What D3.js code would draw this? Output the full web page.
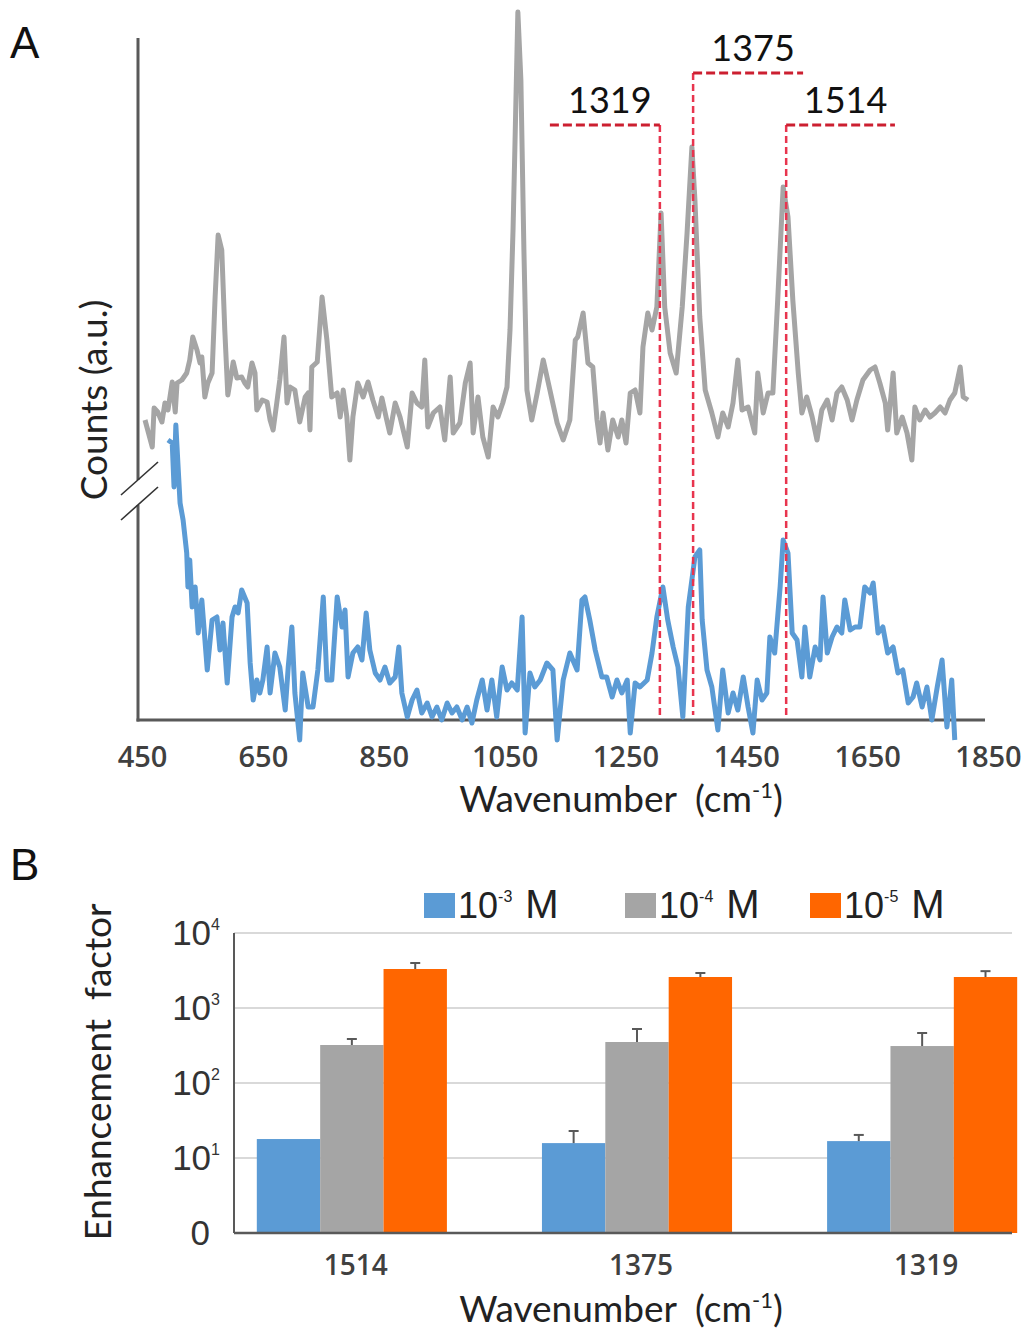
<!DOCTYPE html>
<html>
<head>
<meta charset="utf-8">
<script src="https://cdn.jsdelivr.net/npm/d3@7"></script>
<style>
  body { margin: 0; background: #fff; }
  svg { display: block; }
</style>
</head>
<body>
<div id="chart"></div>
<script>
// ---- Panel A: spectra (wavenumber in cm-1, counts in a.u.) ----
const grayWn = [455, 467, 470, 476, 483, 488, 493, 500, 505, 508, 516, 524, 529, 534, 541, 546, 549, 554, 559, 566,
  571, 576, 582, 587, 592, 601, 607, 615, 620, 625, 632, 637, 640, 649, 657, 662, 667, 673, 678, 685,
  690, 695, 703, 711, 720, 725, 728, 731, 740, 748, 756, 764, 773, 778, 783, 789, 794, 799, 807, 816,
  824, 832, 841, 847, 855, 860, 869, 877, 889, 897, 905, 913, 918, 923, 932, 943, 951, 960, 965, 976,
  985, 993, 998, 1006, 1014, 1023, 1031, 1039, 1047, 1054, 1059, 1064, 1067, 1072, 1077, 1082, 1087, 1095, 1104, 1114,
  1125, 1137, 1147, 1158, 1167, 1171, 1180, 1188, 1196, 1203, 1208, 1213, 1221, 1229, 1238, 1244, 1251, 1258, 1266, 1274,
  1279, 1287, 1294, 1302, 1309, 1315, 1324, 1334, 1344, 1352, 1360, 1365, 1373, 1382, 1393, 1403, 1411, 1420, 1428, 1436,
  1443, 1453, 1464, 1469, 1478, 1486, 1494, 1502, 1511, 1519, 1527, 1536, 1542, 1550, 1559, 1567, 1575, 1584, 1592, 1600,
  1608, 1617, 1625, 1633, 1643, 1655, 1663, 1671, 1680, 1684, 1693, 1699, 1708, 1716, 1724, 1729, 1737, 1746, 1754, 1762,
  1771, 1779, 1787, 1795, 1804, 1809, 1817];
const grayCounts = [300, 273, 312, 308, 298, 317, 310, 338, 308, 337, 340, 347, 360, 383, 370, 357, 363, 323, 337, 347,
  423, 485, 470, 390, 325, 358, 342, 343, 337, 333, 357, 347, 310, 320, 318, 300, 290, 317, 340, 383,
  317, 333, 330, 298, 323, 327, 290, 353, 358, 423, 380, 323, 327, 303, 330, 303, 260, 303, 337, 323,
  338, 320, 303, 322, 300, 287, 317, 303, 273, 327, 317, 313, 360, 293, 307, 313, 280, 343, 287, 297,
  337, 357, 287, 323, 283, 263, 313, 303, 317, 333, 390, 490, 570, 708, 640, 470, 330, 300, 327, 360,
  330, 297, 280, 300, 380, 383, 407, 357, 353, 300, 277, 307, 270, 300, 283, 300, 277, 327, 330, 307,
  373, 407, 390, 413, 507, 413, 367, 347, 413, 487, 573, 520, 403, 330, 307, 283, 307, 293, 317, 360,
  310, 313, 287, 347, 307, 327, 327, 420, 533, 503, 420, 347, 307, 323, 303, 280, 310, 320, 300, 327,
  333, 320, 300, 320, 340, 350, 353, 337, 317, 290, 347, 287, 303, 287, 260, 313, 300, 310, 303, 307,
  313, 307, 320, 327, 353, 323, 320];

const blueWn = [493, 500, 503, 506, 510, 513, 518, 524, 526, 529, 533, 538, 543, 549, 558, 566, 574, 579, 584, 591,
  599, 604, 609, 615, 624, 629, 634, 640, 645, 650, 657, 662, 670, 678, 687, 692, 698, 703, 711, 716,
  725, 733, 741, 750, 756, 764, 773, 781, 786, 791, 799, 807, 814, 821, 827, 836, 844, 852, 860, 869,
  875, 880, 889, 897, 905, 913, 922, 930, 938, 946, 955, 963, 971, 980, 988, 996, 1004, 1013, 1021, 1029,
  1037, 1046, 1054, 1062, 1071, 1079, 1084, 1092, 1100, 1109, 1120, 1130, 1137, 1147, 1158, 1170, 1178, 1183, 1191, 1200,
  1211, 1219, 1228, 1236, 1244, 1253, 1258, 1266, 1274, 1286, 1294, 1302, 1312, 1320, 1329, 1337, 1345, 1354, 1365, 1373,
  1377, 1385, 1393, 1403, 1411, 1420, 1428, 1436, 1445, 1453, 1461, 1468, 1476, 1484, 1489, 1497, 1506, 1511, 1519, 1526,
  1534, 1542, 1547, 1555, 1564, 1572, 1577, 1584, 1592, 1600, 1608, 1613, 1622, 1630, 1638, 1646, 1655, 1660, 1668, 1676,
  1684, 1693, 1701, 1709, 1718, 1726, 1732, 1741, 1749, 1757, 1766, 1774, 1782, 1790, 1795];
const blueCounts = [280, 277, 233, 295, 250, 217, 200, 167, 133, 160, 113, 133, 87, 120, 50, 100, 103, 70, 97, 37,
  103, 113, 107, 130, 117, 57, 20, 40, 27, 40, 73, 27, 67, 53, 10, 53, 93, 27, -20, 47,
  13, 13, 50, 123, 40, 40, 123, 93, 110, 43, 67, 73, 60, 107, 70, 47, 40, 53, 37, 43,
  73, 27, 3, 20, 30, 7, 17, 3, 13, 0, 17, 7, 13, 0, 13, -3, 20, 40, 10, 40,
  3, 53, 30, 37, 30, 103, -13, 47, 33, 40, 57, 50, -20, 40, 67, 50, 120, 123, 100, 70,
  43, 43, 23, 40, 27, 40, -13, 37, 33, 40, 67, 103, 133, 100, 73, 53, 3, 113, 163, 170,
  100, 50, 33, -10, 50, 7, 27, 10, 43, 13, -13, 40, 20, 27, 83, 67, 133, 180, 167, 87,
  80, 43, 93, 43, 73, 60, 123, 67, 83, 93, 87, 120, 90, 93, 93, 133, 127, 137, 87, 93,
  67, 73, 47, 50, 17, 23, 37, 13, 33, 0, 33, 60, -7, 40, -20];

const xTicks = [450, 650, 850, 1050, 1250, 1450, 1650, 1850];

// peak markers: label, position of the dashed drop line, far end of the bracket, bracket level
const peakLabels = ["1319", "1375", "1514"];
const peakLineWn = [1307, 1362, 1516];
const peakBracketEnd = [1125, 1544, 1696];
const peakBracketLevel = [595, 647, 595];

// ---- Panel B: enhancement factor ----
const bandLabels = ["1514", "1375", "1319"];
const seriesNames = ["-3", "-4", "-5"];
const ef1e3 = [17.9, 15.8, 16.8];
const ef1e4 = [321, 352, 311];
const ef1e5 = [3311, 2590, 2590];
const efErrHi1e3 = [17.9, 22.9, 20.3];
const efErrHi1e4 = [386, 525, 464];
const efErrHi1e5 = [3980, 2930, 3100];
const logTicks = [1, 10, 100, 1000, 10000];

const colors = ["#5b9bd5", "#a5a5a5", "#ff6600"];
const axisColor = "#595959";

const svg = d3.select("#chart").append("svg")
    .attr("width", 1026)
    .attr("height", 1329);

// axis title with a superscript "-1"
function waveTitle(cx, baseline) {
    const t = svg.append("text")
        .attr("x", cx).attr("y", baseline)
        .attr("text-anchor", "middle")
        .attr("font-family", "Lato, sans-serif")
        .attr("font-size", 37)
        .attr("fill", "#222");
    t.append("tspan").text("Wavenumber\u00a0\u00a0(cm");
    t.append("tspan").attr("dy", -14).attr("font-size", 22).text("-1");
    t.append("tspan").attr("dy", 14).text(")");
}

// ================= Panel A =================
const x = d3.scaleLinear().domain([450, 1850]).range([142, 988]);
const y = d3.scaleLinear().domain([0, 710]).range([720, 10]);

svg.append("text")
    .attr("x", 10).attr("y", 58)
    .attr("font-family", "Liberation Sans, Arial, sans-serif")
    .attr("font-size", 44)
    .attr("fill", "#111")
    .text("A");

// y axis with a break
const yAxisX = 138;
svg.append("line")
    .attr("x1", yAxisX).attr("x2", yAxisX)
    .attr("y1", 38).attr("y2", y(240))
    .attr("stroke", axisColor).attr("stroke-width", 3);
svg.append("line")
    .attr("x1", yAxisX).attr("x2", yAxisX)
    .attr("y1", y(215)).attr("y2", y(0) + 1.5)
    .attr("stroke", axisColor).attr("stroke-width", 3);
[0, 25].forEach(off => {
    svg.append("line")
        .attr("x1", 121).attr("y1", 495 + off)
        .attr("x2", 158).attr("y2", 462 + off)
        .attr("stroke", "#333").attr("stroke-width", 1.6);
});

// x axis
svg.append("line")
    .attr("x1", yAxisX - 1.5).attr("x2", 985)
    .attr("y1", y(0)).attr("y2", y(0))
    .attr("stroke", axisColor).attr("stroke-width", 3);

const xAxis = svg.append("g")
    .attr("transform", `translate(0,${y(0)})`)
    .call(d3.axisBottom(x).tickValues(xTicks).tickSize(0).tickFormat(d3.format("d")));
xAxis.select(".domain").remove();
xAxis.selectAll("text")
    .attr("y", 47).attr("dy", null)
    .attr("font-family", "Open Sans, sans-serif")
    .attr("font-size", 29)
    .attr("font-weight", 600)
    .attr("fill", "#404040");

waveTitle(621, 812);

svg.append("text")
    .attr("transform", "translate(107,400) rotate(-90)")
    .attr("text-anchor", "middle")
    .attr("font-family", "Lato, sans-serif")
    .attr("font-size", 37)
    .attr("fill", "#222")
    .text("Counts (a.u.)");

// spectra
const line = d3.line()
    .x(d => x(d[0]))
    .y(d => y(d[1]));

svg.append("path")
    .datum(d3.zip(grayWn, grayCounts))
    .attr("d", line)
    .attr("fill", "none")
    .attr("stroke", colors[1])
    .attr("stroke-width", 5)
    .attr("stroke-linejoin", "round");

svg.append("path")
    .datum(d3.zip(blueWn, blueCounts))
    .attr("d", line)
    .attr("fill", "none")
    .attr("stroke", colors[0])
    .attr("stroke-width", 5)
    .attr("stroke-linejoin", "round");

// peak markers
peakLabels.forEach((lab, i) => {
    const xl = x(peakLineWn[i]);
    const xe = x(peakBracketEnd[i]);
    const yl = y(peakBracketLevel[i]);
    svg.append("line")
        .attr("x1", xl).attr("x2", xl)
        .attr("y1", yl).attr("y2", y(5))
        .attr("stroke", "#e8344e")
        .attr("stroke-width", 2.5)
        .attr("stroke-dasharray", "7,4");
    svg.append("line")
        .attr("x1", Math.min(xl, xe)).attr("x2", Math.max(xl, xe))
        .attr("y1", yl).attr("y2", yl)
        .attr("stroke", "#cc1f30")
        .attr("stroke-width", 3)
        .attr("stroke-dasharray", "9,4");
    svg.append("text")
        .attr("x", (xl + xe) / 2 + 5).attr("y", yl - 12)
        .attr("text-anchor", "middle")
        .attr("font-family", "Lato, sans-serif")
        .attr("font-size", 36)
        .attr("fill", "#111")
        .text(lab);
});

// ================= Panel B =================
svg.append("text")
    .attr("x", 10).attr("y", 880)
    .attr("font-family", "Liberation Sans, Arial, sans-serif")
    .attr("font-size", 44)
    .attr("fill", "#111")
    .text("B");

const left = 234, right = 1012;
const yb = d3.scaleLog().domain([1, 10000]).range([1233, 933]);
const x0 = d3.scaleBand().domain(bandLabels).range([234, 1040]).paddingInner(1 / 3).paddingOuter(0.08);
const x1 = d3.scaleBand().domain(seriesNames).range([0, x0.bandwidth()]);

// gridlines
svg.append("g")
    .selectAll("line")
    .data(logTicks.slice(1))
    .join("line")
    .attr("x1", left).attr("x2", right)
    .attr("y1", d => yb(d)).attr("y2", d => yb(d))
    .attr("stroke", "#d9d9d9").attr("stroke-width", 2);

const barData = [];
bandLabels.forEach((b, i) => {
    barData.push({ band: b, s: "-3", v: ef1e3[i], hi: efErrHi1e3[i], c: colors[0] });
    barData.push({ band: b, s: "-4", v: ef1e4[i], hi: efErrHi1e4[i], c: colors[1] });
    barData.push({ band: b, s: "-5", v: ef1e5[i], hi: efErrHi1e5[i], c: colors[2] });
});

svg.append("g")
    .selectAll("rect")
    .data(barData)
    .join("rect")
    .attr("x", d => x0(d.band) + x1(d.s))
    .attr("width", x1.bandwidth())
    .attr("y", d => yb(d.v))
    .attr("height", d => yb(1) - yb(d.v))
    .attr("fill", d => d.c);

// error bars (upper only)
const err = svg.append("g").selectAll("g")
    .data(barData.filter(d => d.hi > d.v))
    .join("g")
    .attr("transform", d => `translate(${x0(d.band) + x1(d.s) + x1.bandwidth() / 2},0)`);
err.append("line")
    .attr("y1", d => yb(d.v)).attr("y2", d => yb(d.hi))
    .attr("stroke", axisColor).attr("stroke-width", 2);
err.append("line")
    .attr("x1", -5).attr("x2", 5)
    .attr("y1", d => yb(d.hi)).attr("y2", d => yb(d.hi))
    .attr("stroke", axisColor).attr("stroke-width", 2);

// axes lines
svg.append("line")
    .attr("x1", left).attr("x2", left)
    .attr("y1", yb(10000)).attr("y2", yb(1))
    .attr("stroke", axisColor).attr("stroke-width", 2);
svg.append("line")
    .attr("x1", left).attr("x2", right)
    .attr("y1", yb(1)).attr("y2", yb(1))
    .attr("stroke", axisColor).attr("stroke-width", 2.5);

// log tick labels
const yt = svg.append("g")
    .selectAll("text")
    .data(logTicks)
    .join("text")
    .attr("x", d => d === 1 ? 210 : 220)
    .attr("y", d => yb(d) + 12)
    .attr("text-anchor", "end")
    .attr("font-family", "Liberation Sans, Arial, sans-serif")
    .attr("font-size", 35)
    .attr("fill", "#333");
yt.filter(d => d === 1).text("0");
yt.filter(d => d !== 1).each(function (d) {
    const t = d3.select(this);
    t.append("tspan").text("10");
    t.append("tspan").attr("dy", -15).attr("font-size", 16).text(Math.round(Math.log10(d)));
});

// category labels
svg.append("g")
    .selectAll("text")
    .data(bandLabels)
    .join("text")
    .attr("x", d => x0(d) + x0.bandwidth() / 2 + 4)
    .attr("y", 1275)
    .attr("text-anchor", "middle")
    .attr("font-family", "Open Sans, sans-serif")
    .attr("font-size", 28)
    .attr("font-weight", 600)
    .attr("fill", "#404040")
    .text(d => d);

waveTitle(621, 1322);

svg.append("text")
    .attr("transform", "translate(111,1072) rotate(-90)")
    .attr("text-anchor", "middle")
    .attr("font-family", "Lato, sans-serif")
    .attr("font-size", 37)
    .attr("fill", "#222")
    .text("Enhancement\u00a0\u00a0factor");

// legend
const legendX = [424, 625, 810];
const legend = svg.append("g")
    .selectAll("g")
    .data(seriesNames)
    .join("g")
    .attr("transform", (d, i) => `translate(${legendX[i]},893)`);
legend.append("rect")
    .attr("width", 31).attr("height", 25)
    .attr("fill", (d, i) => colors[i]);
const lt = legend.append("text")
    .attr("x", 34).attr("y", 25)
    .attr("font-family", "Liberation Sans, Arial, sans-serif")
    .attr("font-size", 36)
    .attr("fill", "#222");
lt.append("tspan").text("10");
lt.append("tspan").attr("dy", -16).attr("font-size", 16).text(d => d);
lt.append("tspan").attr("dy", 16).attr("dx", 13).attr("font-size", 40).text("M");
</script>
</body>
</html>
